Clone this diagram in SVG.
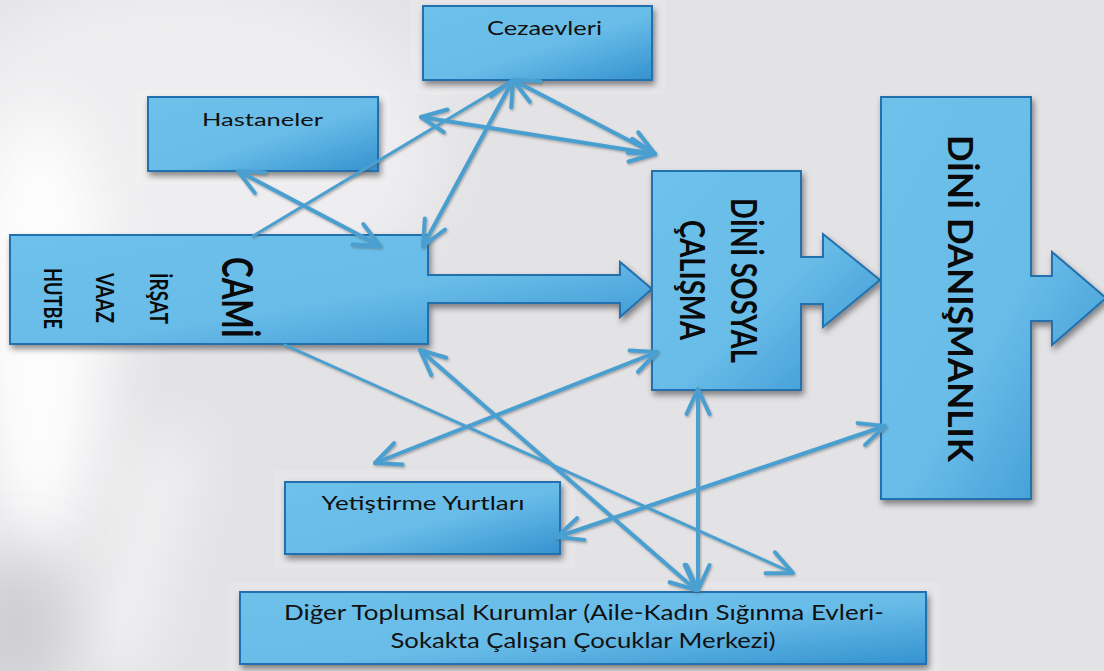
<svg xmlns="http://www.w3.org/2000/svg" width="1104" height="671" viewBox="0 0 1104 671">
<style>
.box{fill:url(#bg);stroke:#2270ad;stroke-width:2;filter:url(#sh)}
.halo{fill:#ffffff;opacity:0.12}
.lbl{font-family:Lato,"Liberation Sans",sans-serif;fill:#111;}
.vt{font-family:Lato,"Liberation Sans",sans-serif;font-weight:700;fill:#0a0a0a;text-anchor:middle}
.cn{fill:none;stroke:#4aa0d0;stroke-width:4;stroke-linecap:round}
.thin{stroke-width:3}
</style>
<defs>
<linearGradient id="bg" x1="0" y1="0" x2="1" y2="1">
<stop offset="0" stop-color="#6dc1ea"/>
<stop offset="0.55" stop-color="#68bce8"/>
<stop offset="1" stop-color="#3592cf"/>
</linearGradient>
<filter id="sh" x="-10%" y="-10%" width="130%" height="130%">
<feDropShadow dx="2" dy="4" stdDeviation="3" flood-color="#000" flood-opacity="0.45"/>
</filter>
<filter id="lsh" x="-10%" y="-10%" width="130%" height="130%">
<feDropShadow dx="1" dy="1.5" stdDeviation="0.8" flood-color="#555" flood-opacity="0.45"/>
</filter>
<filter id="blur" x="-50%" y="-50%" width="200%" height="200%">
<feGaussianBlur stdDeviation="30"/>
</filter>
<marker id="ah" viewBox="-30 -15 34 30" refX="0" refY="0" markerWidth="34" markerHeight="30" markerUnits="userSpaceOnUse" orient="auto-start-reverse" overflow="visible">
<path d="M-25,-11.5 L0,0 L-25,11.5" fill="none" stroke="#4aa0d0" stroke-width="4" stroke-linecap="round" stroke-linejoin="round"/>
</marker>
</defs>
<g id="background">
<rect width="1104" height="671" fill="#e3e3e6"/>
<ellipse cx="180" cy="150" rx="260" ry="170" fill="#eeeef0" filter="url(#blur)"/>
<ellipse cx="40" cy="330" rx="70" ry="220" fill="#ffffff" opacity="0.9" filter="url(#blur)"/>
<path d="M150,430 C125,510 105,590 90,671 L140,671 C155,590 180,510 200,440 Z" fill="#ffffff" opacity="0.6" filter="url(#blur)"/>
<ellipse cx="15" cy="630" rx="50" ry="70" fill="#cdcdd1" filter="url(#blur)"/>
</g>
<g id="halos">
<rect class="halo" x="410" y="0" width="255" height="95"/>
<rect class="halo" x="136" y="90" width="254" height="94"/>
<rect class="halo" x="275" y="470" width="300" height="98"/>
<rect class="halo" x="228" y="582" width="712" height="89"/>
</g>
<g id="cezaevleri">
<rect class="box" x="423" y="6" width="229" height="74"/>
<text class="lbl" x="544.5" y="35" font-size="20" text-anchor="middle" textLength="115" lengthAdjust="spacingAndGlyphs">Cezaevleri</text>
</g>
<g id="hastaneler">
<rect class="box" x="148" y="97" width="230" height="74"/>
<text class="lbl" x="262.5" y="126" font-size="18" text-anchor="middle" textLength="121" lengthAdjust="spacingAndGlyphs">Hastaneler</text>
</g>
<g id="cami">
<path class="box" d="M10,235 H428 V275 H620 V262 L652,289 L620,317 V303 H428 V344 H10 Z"/>
<text class="vt" transform="translate(222,297.5) rotate(90)" font-size="42" textLength="81" lengthAdjust="spacingAndGlyphs">CAMİ</text>
<text class="vt" transform="translate(150,298.5) rotate(90)" font-size="24" textLength="51" lengthAdjust="spacingAndGlyphs">İRŞAT</text>
<text class="vt" transform="translate(96,298) rotate(90)" font-size="24" textLength="50" lengthAdjust="spacingAndGlyphs">VAAZ</text>
<text class="vt" transform="translate(44,298.5) rotate(90)" font-size="24" textLength="61" lengthAdjust="spacingAndGlyphs">HUTBE</text>
</g>
<g id="dini-sosyal">
<path class="box" d="M652,171 H801 V257 H823 V234 L880,280 L823,327 V304 H801 V390 H652 Z"/>
<text class="vt" transform="translate(731,280.5) rotate(90)" font-size="36" textLength="165" lengthAdjust="spacingAndGlyphs">DİNİ SOSYAL</text>
<text class="vt" transform="translate(680,280) rotate(90)" font-size="35" textLength="120" lengthAdjust="spacingAndGlyphs">ÇALIŞMA</text>
</g>
<g id="dini-danismanlik">
<path class="box" d="M881,97 H1031 V276 H1052 V252 L1106,298 L1052,345 V321 H1031 V499 H881 Z"/>
<text class="vt" transform="translate(948,298.5) rotate(90)" font-size="35" textLength="327" lengthAdjust="spacingAndGlyphs">DİNİ DANIŞMANLIK</text>
</g>
<g id="yetistirme">
<rect class="box" x="285" y="482" width="275" height="72"/>
<text class="lbl" x="423" y="510" font-size="19" text-anchor="middle" textLength="203" lengthAdjust="spacingAndGlyphs">Yetiştirme Yurtları</text>
</g>
<g id="diger">
<rect class="box" x="240" y="592" width="686" height="72"/>
<text class="lbl" x="584" y="620" font-size="21" text-anchor="middle" textLength="600" lengthAdjust="spacingAndGlyphs">Diğer Toplumsal Kurumlar (Aile-Kadın Sığınma Evleri-</text>
<text class="lbl" x="583" y="648" font-size="21" text-anchor="middle" textLength="385" lengthAdjust="spacingAndGlyphs">Sokakta Çalışan Çocuklar Merkezi)</text>
</g>
<g id="connectors" filter="url(#lsh)">
<line class="cn" x1="238" y1="171" x2="380" y2="246" marker-start="url(#ah)" marker-end="url(#ah)"/>
<line class="cn thin" x1="253" y1="236" x2="513" y2="80"/>
<line class="cn" x1="423" y1="246" x2="513" y2="80" marker-start="url(#ah)" marker-end="url(#ah)"/>
<line class="cn" x1="513" y1="80" x2="655" y2="154" marker-start="url(#ah)" marker-end="url(#ah)"/>
<line class="cn" x1="421" y1="117" x2="655" y2="154" marker-start="url(#ah)" marker-end="url(#ah)"/>
<line class="cn thin" x1="285" y1="345" x2="793" y2="573" marker-end="url(#ah)"/>
<line class="cn" x1="420" y1="350" x2="696" y2="590" marker-start="url(#ah)" marker-end="url(#ah)"/>
<line class="cn" x1="698" y1="389" x2="698" y2="590" marker-start="url(#ah)" marker-end="url(#ah)"/>
<line class="cn" x1="375" y1="463" x2="657" y2="352" marker-start="url(#ah)" marker-end="url(#ah)"/>
<line class="cn" x1="557" y1="537" x2="885" y2="426" marker-start="url(#ah)" marker-end="url(#ah)"/>
</g>
</svg>
